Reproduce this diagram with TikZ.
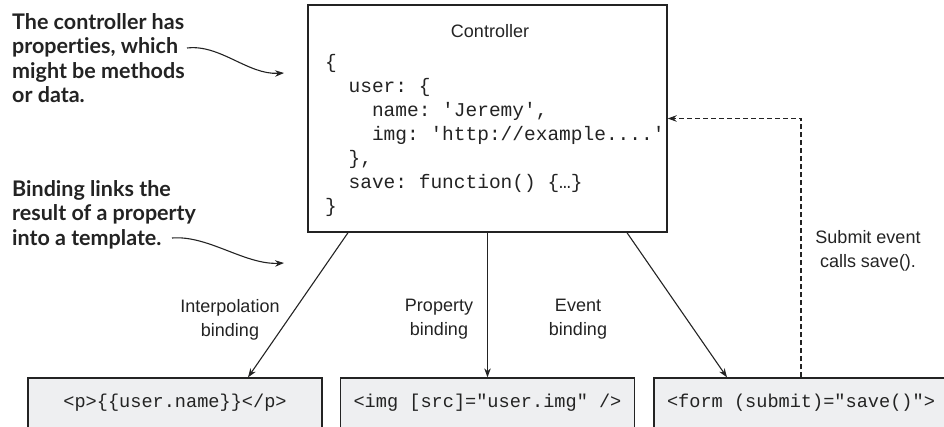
\documentclass[tikz,border=0pt]{standalone}
\usepackage{fontspec}
\setmainfont{Liberation Sans}
\setmonofont{Liberation Mono}
\newfontfamily\annfont{Lato}[Ligatures={NoCommon}]
\usetikzlibrary{arrows.meta,calc}
\definecolor{tmplgray}{RGB}{238,239,241}
\definecolor{ink}{RGB}{35,35,35}
\begin{document}
\begin{tikzpicture}[x=1pt,y=-1pt,
  ann/.style={font=\annfont\bfseries\fontsize{21.5}{24.6}\selectfont, align=left, anchor=north west, inner sep=0pt, text=ink},
  lbl/.style={font=\fontsize{18}{24}\selectfont, align=center, anchor=north, inner sep=0pt, text=ink},
  codeln/.style={font=\ttfamily\fontsize{19.5}{24}\selectfont, anchor=base west, inner sep=0pt, text=ink},
  ctrlbox/.style={draw=ink, line width=1.4pt, minimum width=359pt, minimum height=227pt, inner sep=0pt},
  tmpl/.style={draw=ink, line width=1.3pt, fill=tmplgray, minimum width=294pt, minimum height=80pt, inner sep=0pt},
  tmpltxt/.style={font=\ttfamily\fontsize{18.6}{22}\selectfont, anchor=base, inner sep=0pt, text=ink},
  conn/.style={draw=ink, line width=1.1pt, -{Stealth[length=9pt,width=6.5pt]}},
  dashconn/.style={conn, dash pattern=on 5pt off 3pt},
  curvy/.style={draw=ink, line width=1.1pt, -{Stealth[length=9pt,width=6.5pt]}}
]
\useasboundingbox (0,0) rectangle (944,426);
\clip (0,0) rectangle (944,426);

% controller
\node[ctrlbox] (ctrl) at (487.5,118.5) {};
\node[font=\fontsize{18}{22}\selectfont, anchor=base, inner sep=0pt, text=ink] (title) at (490,37) {Controller};
\node[codeln] (c1) at (325,68) {\{};
\node[codeln] (c2) at (325,92) {\phantom{xx}user: \{};
\node[codeln] (c3) at (325,116) {\phantom{xxxx}name: 'Jeremy',};
\node[codeln] (c4) at (325,140) {\phantom{xxxx}img: 'http://example....'};
\node[codeln] (c5) at (325,164) {\phantom{xx}\},};
\node[codeln] (c6) at (325,188) {\phantom{xx}save: function() \{…\}};
\node[codeln] (c7) at (325,212) {\}};

% templates
\node[tmpl] (b1) at (175,418) {};
\node[tmpl] (b2) at (487.5,418) {};
\node[tmpl] (b3) at (801,418) {};
\node[tmpltxt] (t1) at (175,407) {<p>\{\{user.name\}\}</p>};
\node[tmpltxt] (t2) at (487.5,407) {<img [src]="user.img" />};
\node[tmpltxt] (t3) at (801,407) {<form (submit)="save()">};

% annotations
\node[ann] (n1) at (12,13) {The controller has\\properties, which\\might be methods\\or data.};
\node[ann] (n2) at (12,180) {Binding links the\\result of a property\\into a template.};
\coordinate (a1s) at (187,48);
\coordinate (a1e) at (284,73);
\coordinate (a2s) at (172,238);
\coordinate (a2e) at (284,263);
\draw[curvy] (a1s) .. controls (220,44) and (248,75) .. (a1e);
\draw[curvy] (a2s) .. controls (208,235) and (245,265) .. (a2e);

% labels
\node[lbl] (l1) at (230,299) {Interpolation\\binding};
\node[lbl] (l2) at (439,299) {Property\\binding};
\node[lbl] (l3) at (578,299) {Event\\binding};
\node[lbl] (l4) at (868,230) {Submit event\\calls save().};

% connectors
\draw[conn] ($(ctrl.south)+(-139.5,0)$) -- ($(b1.north)+(73,0)$);
\draw[conn] (ctrl.south) -- (b2.north);
\draw[conn] ($(ctrl.south)+(139.5,0)$) -- ($(b3.north)+(-74,0)$);
\draw[dashconn] (b3.north) |- (ctrl.east);
\end{tikzpicture}
\end{document}
